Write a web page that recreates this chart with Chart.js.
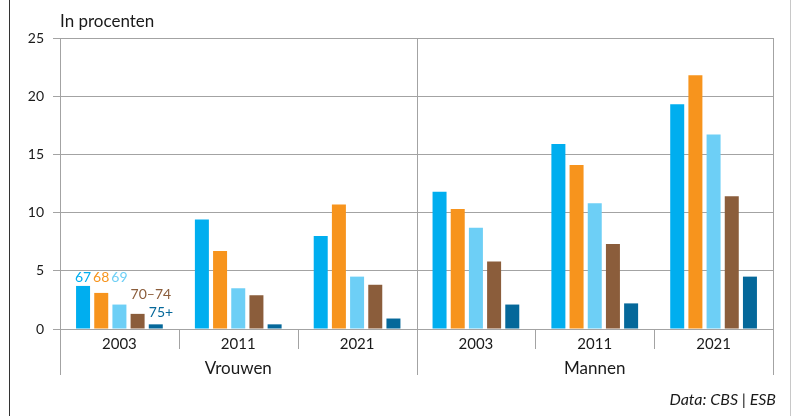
<!DOCTYPE html>
<html>
<head>
<meta charset="utf-8">
<script src="https://cdn.jsdelivr.net/npm/chart.js@4"></script>
<style>
  html, body { margin: 0; padding: 0; background: #fff; }
  #wrap { position: relative; width: 792px; height: 416px; overflow: hidden; }
  #frameL { position: absolute; left: 9px; top: 0; width: 1px; height: 416px; background: #333; }
  #frameR { position: absolute; left: 790px; top: 0; width: 1px; height: 416px; background: #c8c8c8; }
</style>
</head>
<body>
<div id="wrap">
  <canvas id="c" width="792" height="416"></canvas>
  <div id="frameL"></div>
  <div id="frameR"></div>
</div>
<script>
const years = ['2003', '2011', '2021', '2003', '2011', '2021'];
const groups = ['Vrouwen', 'Mannen'];
const ageLabels = ['67', '68', '69', '70–74', '75+'];
const age67 = [3.7, 9.4, 8.0, 11.8, 15.9, 19.3];
const age68 = [3.1, 6.7, 10.7, 10.3, 14.1, 21.8];
const age69 = [2.1, 3.5, 4.5, 8.7, 10.8, 16.7];
const age7074 = [1.3, 2.9, 3.8, 5.8, 7.3, 11.4];
const age75plus = [0.4, 0.4, 0.9, 2.1, 2.2, 4.5];
const yTicks = [0, 5, 10, 15, 20, 25];
const yUnit = 'In procenten';
const source = 'Data: CBS | ESB';

const colors = ['#00aeef', '#f7941d', '#6dcff6', '#8b5d3b', '#05689a'];
const series = [age67, age68, age69, age7074, age75plus];
const FONT = 'Lato, "Open Sans", sans-serif';
const LINE = '#a3a3a3';

const decor = {
  id: 'decor',
  afterDraw(chart) {
    const ctx = chart.ctx;
    const xs = chart.scales.x;
    const ca = chart.chartArea;
    const n = years.length;
    const bounds = [];
    for (let i = 0; i <= n; i++) {
      if (i === 0) bounds.push(xs.left);
      else if (i === n) bounds.push(xs.right);
      else bounds.push((xs.getPixelForValue(i - 1) + xs.getPixelForValue(i)) / 2);
    }
    ctx.save();
    ctx.strokeStyle = LINE;
    ctx.lineWidth = 1;
    bounds.forEach((b, i) => {
      const x = Math.round(b) + 0.5;
      ctx.beginPath();
      if (i % 3 === 0) {
        ctx.moveTo(x, ca.top);
        ctx.lineTo(x, ca.bottom + 46);
      } else {
        ctx.moveTo(x, ca.bottom);
        ctx.lineTo(x, ca.bottom + 20);
      }
      ctx.stroke();
    });
    // group labels
    ctx.fillStyle = '#1a1a1a';
    ctx.font = '17px ' + FONT;
    ctx.textAlign = 'center';
    ctx.textBaseline = 'middle';
    groups.forEach((g, gi) => {
      const cx = (bounds[gi * 3] + bounds[gi * 3 + 3]) / 2;
      ctx.fillText(g, cx, ca.bottom + 40);
    });
    // unit label
    ctx.textAlign = 'left';
    ctx.font = '17px ' + FONT;
    ctx.fillText(yUnit, ca.left, 22);
    // source
    ctx.textAlign = 'right';
    ctx.font = 'italic 16px ' + FONT;
    ctx.fillText(source, 776, 400);
    // age labels on the first group
    ctx.font = '14px ' + FONT;
    const m = series.map((s, d) => chart.getDatasetMeta(d).data[0]);
    const top3 = m[0].y - 8;
    for (let d = 0; d < 3; d++) {
      ctx.fillStyle = colors[d];
      ctx.textAlign = 'center';
      ctx.fillText(ageLabels[d], m[d].x, top3);
    }
    ctx.textAlign = 'left';
    ctx.fillStyle = colors[3];
    ctx.fillText(ageLabels[3], m[3].x - m[3].width / 2, m[3].y - 19);
    ctx.fillStyle = colors[4];
    ctx.fillText(ageLabels[4], m[4].x - m[4].width / 2, m[4].y - 12);
    ctx.restore();
  }
};

new Chart(document.getElementById('c'), {
  type: 'bar',
  data: {
    labels: years,
    datasets: series.map((s, i) => ({
      label: ageLabels[i],
      data: s,
      backgroundColor: colors[i],
      borderWidth: 0,
      categoryPercentage: 0.765,
      barPercentage: 0.77
    }))
  },
  options: {
    responsive: false,
    animation: false,
    layout: { padding: { top: 38, right: 19, left: 0, bottom: 0 } },
    plugins: { legend: { display: false }, tooltip: { enabled: false } },
    scales: {
      x: {
        grid: { display: false, drawTicks: false, tickLength: 0 },
        border: { display: false },
        ticks: { color: '#1a1a1a', font: { family: FONT, size: 15 }, padding: 6 },
        afterFit(s) { s.height = 87; }
      },
      y: {
        min: 0, max: 25,
        afterBuildTicks(s) { s.ticks = yTicks.map(v => ({ value: v })); },
        grid: { color: LINE, lineWidth: 1, tickLength: 7 },
        border: { display: true, color: LINE, width: 1 },
        ticks: { color: '#1a1a1a', font: { family: FONT, size: 14 }, padding: 9 },
        afterFit(s) { s.width = 60; }
      }
    }
  },
  plugins: [decor]
});
</script>
</body>
</html>
